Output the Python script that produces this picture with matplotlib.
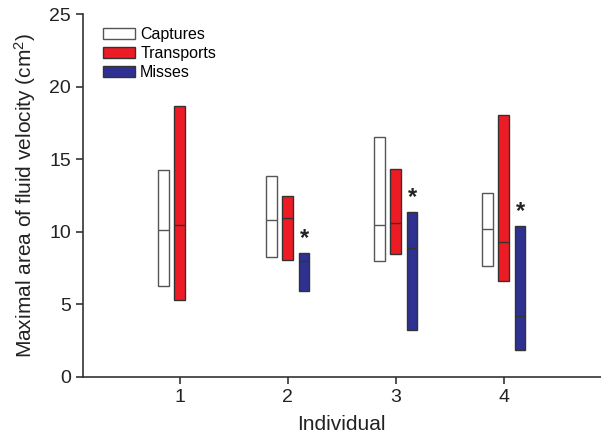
import matplotlib
matplotlib.use("Agg")
import matplotlib.pyplot as plt
from matplotlib.patches import Patch
import numpy as np

plt.rcParams['font.family'] = ['Liberation Sans', 'DejaVu Sans']
plt.rcParams['mathtext.fontset'] = 'custom'
plt.rcParams['mathtext.rm'] = 'Liberation Sans'
plt.rcParams['mathtext.it'] = 'Liberation Sans'
plt.rcParams['mathtext.default'] = 'regular'

individuals = [1, 2, 3, 4]
series = ["Captures", "Transports", "Misses"]
colors = {"Captures": "#FFFFFF", "Transports": "#ED1C24", "Misses": "#2E3192"}
edges = {"Captures": "#555555", "Transports": "#333333", "Misses": "#333333"}

# low, median, high per individual (None = no data)
captures_low = [6.26, 8.28, 7.98, 7.61]
captures_med = [10.1, 10.8, 10.46, 10.19]
captures_high = [14.23, 13.82, 16.53, 12.67]

transports_low = [5.31, 8.05, 8.48, 6.58]
transports_med = [10.46, 10.92, 10.58, 9.27]
transports_high = [18.67, 12.44, 14.32, 18.04]

misses_low = [None, 5.91, 3.22, 1.84]
misses_med = [None, 8.0, 8.87, 4.17]
misses_high = [None, 8.53, 11.38, 10.37]

significant = [False, True, True, True]

data = {
    "Captures": (captures_low, captures_med, captures_high),
    "Transports": (transports_low, transports_med, transports_high),
    "Misses": (misses_low, misses_med, misses_high),
}
offsets = {"Captures": -0.15, "Transports": 0.0, "Misses": 0.15}
width = 0.1

fig = plt.figure(figsize=(6.01, 4.42), dpi=100)
ax = fig.add_axes([0.1376, 0.1477, 0.8624, 0.8206])

for s in series:
    lo, med, hi = data[s]
    for i, ind in enumerate(individuals):
        if lo[i] is None:
            continue
        x = ind + offsets[s]
        ax.bar(x, hi[i] - lo[i], bottom=lo[i], width=width, color=colors[s],
               edgecolor=edges[s], linewidth=1.0, zorder=2)
        ax.hlines(med[i], x - width / 2, x + width / 2, color="#333333"
                  if s != "Captures" else "#555555", linewidth=1.0, zorder=3)

for i, ind in enumerate(individuals):
    if significant[i]:
        ax.text(ind + offsets["Misses"], misses_high[i] + 1.0, "*", ha="center",
                va="center", fontsize=17, fontweight="bold", color="#222222")

ax.set_xlim(0.1, 4.9)
ax.set_ylim(0, 25)
ax.set_xticks(individuals)
ax.set_yticks([0, 5, 10, 15, 20, 25])
ax.tick_params(axis="both", labelsize=14, colors="#333333", length=5, width=1.2,
               labelcolor="#222222")
for sp in ["top", "right"]:
    ax.spines[sp].set_visible(False)
for sp in ["left", "bottom"]:
    ax.spines[sp].set_color("#333333")
    ax.spines[sp].set_linewidth(1.2)

ax.set_xlabel("Individual", fontsize=15, color="#222222", labelpad=7)
ax.set_ylabel("Maximal area of fluid velocity (cm$^2$)", fontsize=15,
              color="#222222", labelpad=8)

handles = [Patch(facecolor=colors[s], edgecolor=edges[s], linewidth=1.0, label=s)
           for s in series]
ax.legend(handles=handles, loc="upper left", bbox_to_anchor=(0.02, 0.99),
          frameon=False, fontsize=11.5, handlelength=2.0, handleheight=0.65,
          handletextpad=0.35, labelspacing=0.25, borderaxespad=0.2)

fig.savefig("out.png", dpi=100)
